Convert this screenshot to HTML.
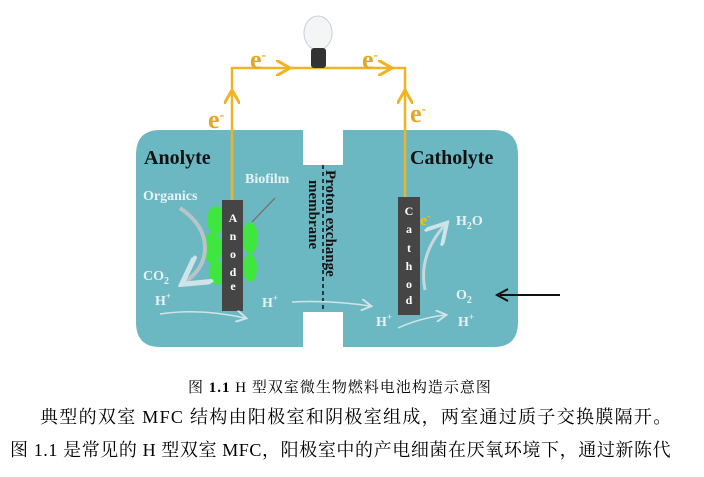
<!DOCTYPE html><html><head><meta charset="utf-8"><style>
body{margin:0;width:704px;height:477px;background:#fff;overflow:hidden;position:relative;font-family:"Liberation Serif","Noto Serif CJK SC",serif}
.t{position:absolute;white-space:nowrap}
</style></head><body>
<svg width="704" height="370" style="position:absolute;left:0;top:0" font-family="Liberation Serif, serif" font-weight="bold">
<defs><marker id="a" markerWidth="8" markerHeight="8" refX="6" refY="4" orient="auto"><path d="M0,0L7,4L0,8" fill="none" stroke="#f2b322" stroke-width="1.5"/></marker>
<marker id="g" markerWidth="8" markerHeight="8" refX="6" refY="4" orient="auto"><path d="M0,0L7,4L0,8" fill="none" stroke="#cfe4e8" stroke-width="1.3"/></marker></defs>
<path d="M160,130H303V165H343V130H494Q518,130 518,155V322Q518,347 494,347H343V312H303V347H160Q136,347 136,322V155Q136,130 160,130Z" fill="#6bb8c3"/>
<rect x="303" y="130" width="40" height="35" fill="#fff"/><rect x="303" y="312" width="40" height="35" fill="#fff"/>
<path d="M232,200V68H405V197" fill="none" stroke="#f2b322" stroke-width="2.5"/>
<path d="M232,110V92" stroke="#f2b322" stroke-width="2" marker-end="url(#a)"/>
<path d="M405,110V92" stroke="#f2b322" stroke-width="2" marker-end="url(#a)"/>
<path d="M265,68H288" stroke="#f2b322" stroke-width="2" marker-end="url(#a)"/>
<path d="M368,68H390" stroke="#f2b322" stroke-width="2" marker-end="url(#a)"/>
<g fill="#e0a82a" font-size="26"><text x="250" y="68">e<tspan font-size="14" dy="-9">-</tspan></text><text x="362" y="68">e<tspan font-size="14" dy="-9">-</tspan></text><text x="208" y="128">e<tspan font-size="14" dy="-9">-</tspan></text><text x="410" y="122">e<tspan font-size="14" dy="-9">-</tspan></text></g>
<ellipse cx="318" cy="33" rx="14" ry="17" fill="#f4f6f6" stroke="#ccd" /><rect x="311" y="48" width="15" height="20" rx="3" fill="#333"/>
<g fill="#3fe63f"><ellipse cx="216" cy="220" rx="9" ry="14"/><ellipse cx="213" cy="248" rx="9" ry="16"/><ellipse cx="217" cy="273" rx="8" ry="12"/><ellipse cx="250" cy="238" rx="8" ry="16"/><ellipse cx="250" cy="268" rx="7" ry="14"/></g>
<rect x="222" y="200" width="21" height="111" fill="#454545"/><rect x="398" y="197" width="22" height="118" fill="#454545"/>
<g fill="#fff" font-size="12" text-anchor="middle"><text x="233" y="222">A</text><text x="233" y="240">n</text><text x="233" y="258">o</text><text x="233" y="276">d</text><text x="233" y="290">e</text>
<text x="409" y="215">C</text><text x="409" y="233">a</text><text x="409" y="252">t</text><text x="409" y="270">h</text><text x="409" y="288">o</text><text x="409" y="304">d</text></g>
<line x1="323" y1="165" x2="323" y2="312" stroke="#111" stroke-width="1.5" stroke-dasharray="4,3"/>
<text transform="translate(326,170) rotate(90)" font-size="15" fill="#111">Proton exchange</text>
<text transform="translate(309,180) rotate(90)" font-size="15" fill="#111">membrane</text>
<text x="144" y="164" font-size="20" fill="#111">Anolyte</text><text x="410" y="164" font-size="20" fill="#111">Catholyte</text>
<g fill="#e8f2f4" font-size="14"><text x="245" y="183">Biofilm</text><text x="143" y="200">Organics</text><text x="143" y="280">CO<tspan font-size="10" dy="4">2</tspan></text>
<text x="155" y="305">H<tspan font-size="9" dy="-6">+</tspan></text><text x="262" y="307">H<tspan font-size="9" dy="-6">+</tspan></text><text x="376" y="326">H<tspan font-size="9" dy="-6">+</tspan></text><text x="458" y="326">H<tspan font-size="9" dy="-6">+</tspan></text>
<text x="456" y="225">H<tspan font-size="10" dy="4">2</tspan><tspan dy="-4">O</tspan></text><text x="456" y="299">O<tspan font-size="10" dy="4">2</tspan></text></g>
<text x="420" y="225" font-size="16" fill="#f2c200">e<tspan font-size="10" dy="-6">-</tspan></text>
<path d="M180,208Q205,225 205,248Q205,268 185,282" fill="none" stroke="#b8c4c6" stroke-width="4" marker-end="url(#g)"/>
<path d="M275,198L252,222" stroke="#777" stroke-width="1.5"/>
<path d="M160,314Q200,308 245,318" fill="none" stroke="#cfe4e8" stroke-width="1.5" marker-end="url(#g)"/>
<path d="M292,302Q330,300 370,306" fill="none" stroke="#cfe4e8" stroke-width="1.5" marker-end="url(#g)"/>
<path d="M398,328Q420,318 445,315" fill="none" stroke="#cfe4e8" stroke-width="1.5" marker-end="url(#g)"/>
<path d="M425,290Q418,255 445,225" fill="none" stroke="#c6d8dc" stroke-width="3" marker-end="url(#g)"/>
<path d="M560,295H500" stroke="#111" stroke-width="2"/><path d="M508,289L497,295L508,301" fill="none" stroke="#111" stroke-width="2"/>
</svg>
<div class="t" style="left:188px;top:376px;font-size:15px;letter-spacing:1px">图 <b>1.1</b> H 型双室微生物燃料电池构造示意图</div>
<div class="t" style="left:40px;top:403px;font-size:18px;letter-spacing:1.3px">典型的双室 MFC 结构由阳极室和阴极室组成，两室通过质子交换膜隔开。</div>
<div class="t" style="left:10px;top:436px;font-size:18px;letter-spacing:0.6px">图 1.1 是常见的 H 型双室 MFC，阳极室中的产电细菌在厌氧环境下，通过新陈代</div>
</body></html>
